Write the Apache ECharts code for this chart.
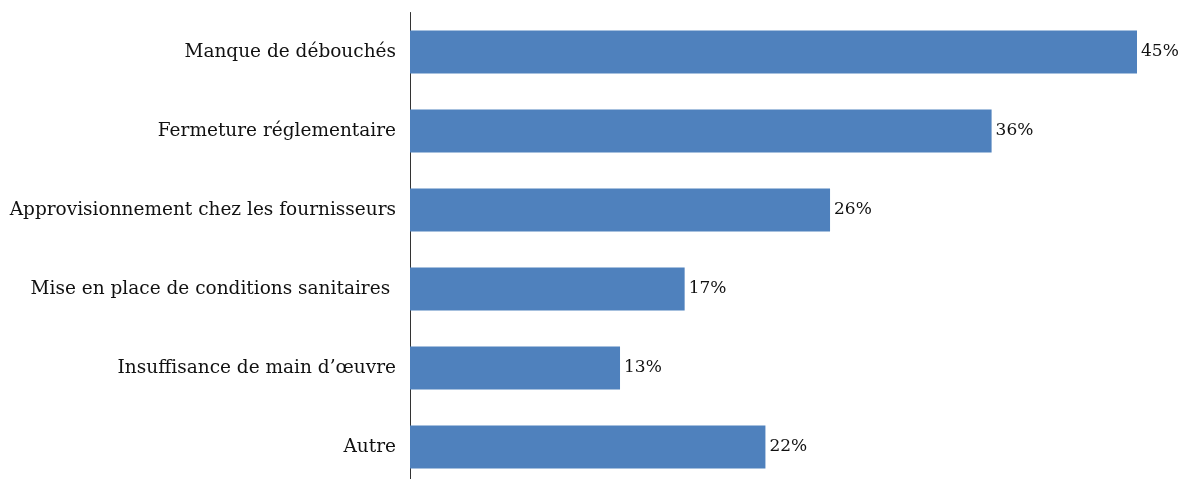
<!DOCTYPE html>
<html><head><meta charset="utf-8">
<script src="https://cdn.jsdelivr.net/npm/echarts@6/dist/echarts.min.js"></script>
<style>html,body{margin:0;padding:0;background:#fff}#c{width:1182px;height:479px}</style>
</head><body><div id="c"></div>
<script>
var categories = ["Manque de débouchés","Fermeture réglementaire","Approvisionnement chez les fournisseurs","Mise en place de conditions sanitaires ","Insuffisance de main d’œuvre","Autre"];
var values = [45,36,26,17,13,22];
var chart = echarts.init(document.getElementById('c'));
chart.setOption({
  animation:false,
  grid:{left:410,right:45,top:12.5,height:474,containLabel:false,outerBoundsMode:'none'},
  xAxis:{type:'value',min:0,max:45,show:false},
  yAxis:{type:'category',data:categories,inverse:true,
    axisLine:{show:true,lineStyle:{color:'#333',width:1}},
    axisTick:{show:false},
    axisLabel:{margin:14,color:'#111',fontFamily:'DejaVu Serif',fontSize:18.5}},
  series:[{type:'bar',data:values,barWidth:43,
    itemStyle:{color:'#4F81BD'},
    label:{show:true,position:'right',distance:4,formatter:'{c}%',color:'#111',fontFamily:'DejaVu Serif',fontSize:17}}]
});
</script></body></html>
